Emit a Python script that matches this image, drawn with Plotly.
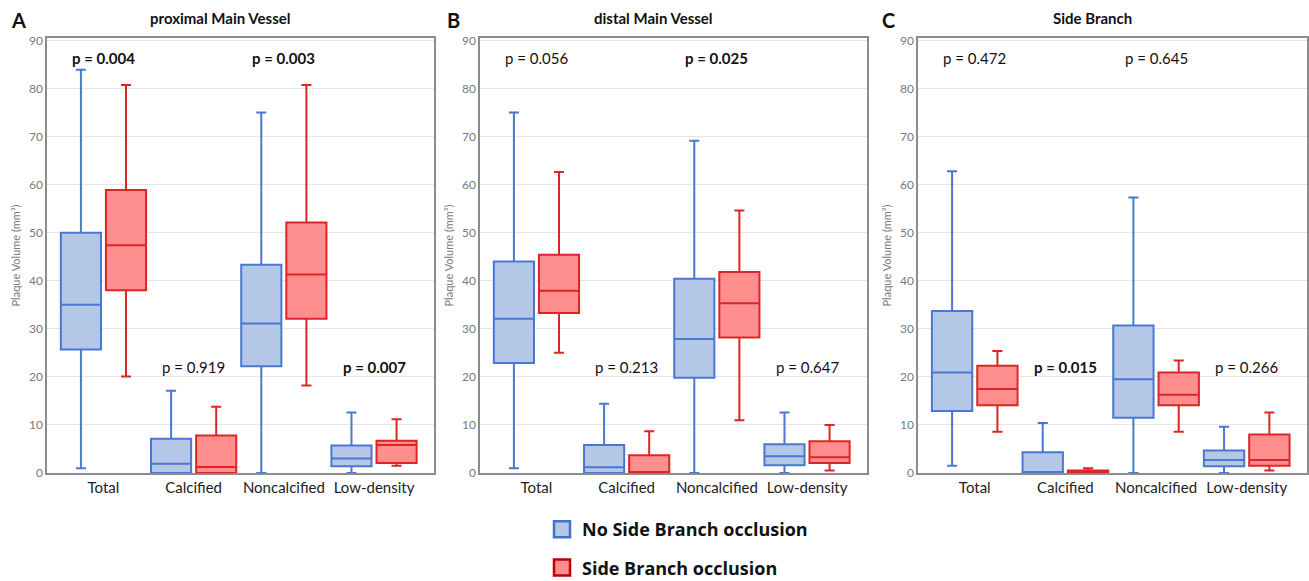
import plotly.graph_objects as go

categories = ["Total", "Calcified", "Noncalcified", "Low-density"]

# ---- A: proximal Main Vessel ----
prox_no_lower = [1.0, 0.0, 0.0, 0.0]
prox_no_q1 = [25.7, 0.0, 22.2, 1.4]
prox_no_median = [35.0, 1.9, 31.1, 3.0]
prox_no_q3 = [50.0, 7.1, 43.3, 5.7]
prox_no_upper = [83.9, 17.1, 75.0, 12.6]

prox_sbo_lower = [20.1, 0.0, 18.2, 1.5]
prox_sbo_q1 = [38.0, 0.0, 32.1, 2.1]
prox_sbo_median = [47.4, 1.25, 41.3, 5.8]
prox_sbo_q3 = [58.9, 7.8, 52.1, 6.7]
prox_sbo_upper = [80.7, 13.8, 80.7, 11.2]

prox_p = ["0.004", "0.919", "0.003", "0.007"]
prox_sig = [True, False, True, True]

# ---- B: distal Main Vessel ----
dist_no_lower = [1.0, 0.0, 0.0, 0.0]
dist_no_q1 = [22.9, 0.0, 19.8, 1.6]
dist_no_median = [32.1, 1.2, 27.9, 3.5]
dist_no_q3 = [44.0, 5.8, 40.4, 6.0]
dist_no_upper = [75.0, 14.4, 69.1, 12.6]

dist_sbo_lower = [25.0, 0.0, 11.0, 0.5]
dist_sbo_q1 = [33.3, 0.0, 28.2, 2.1]
dist_sbo_median = [37.9, 0.15, 35.3, 3.3]
dist_sbo_q3 = [45.4, 3.7, 41.8, 6.6]
dist_sbo_upper = [62.6, 8.7, 54.6, 10.0]

dist_p = ["0.056", "0.213", "0.025", "0.647"]
dist_sig = [False, False, True, False]

# ---- C: Side Branch ----
side_no_lower = [1.5, 0.0, 0.0, 0.0]
side_no_q1 = [12.9, 0.0, 11.5, 1.4]
side_no_median = [20.9, 0.1, 19.5, 2.7]
side_no_q3 = [33.7, 4.3, 30.7, 4.7]
side_no_upper = [62.8, 10.4, 57.3, 9.6]

side_sbo_lower = [8.6, 0.0, 8.6, 0.5]
side_sbo_q1 = [14.1, 0.0, 14.1, 1.5]
side_sbo_median = [17.5, 0.1, 16.3, 2.7]
side_sbo_q3 = [22.3, 0.5, 20.9, 8.0]
side_sbo_upper = [25.4, 1.0, 23.4, 12.6]

side_p = ["0.472", "0.015", "0.645", "0.266"]
side_sig = [False, True, False, False]

panel_titles = ["proximal Main Vessel", "distal Main Vessel", "Side Branch"]
panel_letters = ["A", "B", "C"]
group_names = ["No Side Branch occlusion", "Side Branch occlusion"]

FONT = "Lato"
BLUE_LINE = "#4A78D0"
BLUE_FILL = "#B4C7E7"
RED_LINE = "#DC2626"
RED_FILL = "#FF8F8F"

panels = [
    ((prox_no_lower, prox_no_q1, prox_no_median, prox_no_q3, prox_no_upper),
     (prox_sbo_lower, prox_sbo_q1, prox_sbo_median, prox_sbo_q3, prox_sbo_upper),
     prox_p, prox_sig),
    ((dist_no_lower, dist_no_q1, dist_no_median, dist_no_q3, dist_no_upper),
     (dist_sbo_lower, dist_sbo_q1, dist_sbo_median, dist_sbo_q3, dist_sbo_upper),
     dist_p, dist_sig),
    ((side_no_lower, side_no_q1, side_no_median, side_no_q3, side_no_upper),
     (side_sbo_lower, side_sbo_q1, side_sbo_median, side_sbo_q3, side_sbo_upper),
     side_p, side_sig),
]

fig = go.Figure()

ML, MR, MT, MB = 47, 2, 38, 108
W, H = 1309, 581
PW = W - ML - MR
PH = H - MT - MB
x_domains_px = [(47, 434), (480, 867), (918, 1307)]
title_centers_px = [220, 653, 1092]
letter_left_px = [9, 445, 880]

annotations = []
for i, (no, sbo, pv, sig) in enumerate(panels):
    ax = "" if i == 0 else str(i + 1)
    for stats, name, lc, fc in [(no, group_names[0], BLUE_LINE, BLUE_FILL),
                                (sbo, group_names[1], RED_LINE, RED_FILL)]:
        lo, q1, med, q3, up = stats
        fig.add_trace(go.Box(
            x=categories, lowerfence=lo, q1=q1, median=med, q3=q3, upperfence=up,
            name=name, legendgroup=name, showlegend=False, boxpoints=False,
            line=dict(color=lc, width=2), fillcolor=fc, whiskerwidth=0.25,
            offsetgroup=name, xaxis="x" + ax, yaxis="y" + ax,
        ))
    for k, cat in enumerate(categories):
        txt = "p = " + pv[k]
        if sig[k]:
            txt = "<b>" + txt + "</b>"
        annotations.append(dict(
            x=cat, y=86.4 if k % 2 == 0 else 22.0, xref="x" + ax, yref="y" + ax,
            text=txt, showarrow=False, font=dict(family=FONT, size=15, color="#111111"),
            xanchor="center", yanchor="middle"))
    x0, x1 = x_domains_px[i]
    fig.layout["xaxis" + ax] = dict(
        domain=[(x0 - ML) / PW, (x1 - ML) / PW], anchor="y" + ax,
        type="category", categoryorder="array", categoryarray=categories,
        range=[-0.626, 3.665], showgrid=False, zeroline=False,
        showline=True, mirror=True, linecolor="#8c8c8c", linewidth=1.5,
        ticks="", tickfont=dict(family=FONT, size=15, color="#222222"),
    )
    fig.layout["yaxis" + ax] = dict(
        domain=[0, 1], anchor="x" + ax, range=[0, 90.5],
        tickvals=[0, 10, 20, 30, 40, 50, 60, 70, 80, 90],
        showgrid=True, gridcolor="#E6E6E6", gridwidth=1, zeroline=False,
        showline=True, mirror=True, linecolor="#8c8c8c", linewidth=1.5,
        ticks="", tickfont=dict(family=FONT, size=12, color="#7a7a7a"),
        title=dict(text="Plaque Volume (mm³)", font=dict(family=FONT, size=11, color="#7a7a7a"),
                   standoff=6),
    )
    annotations.append(dict(
        x=(title_centers_px[i] - ML) / PW, y=(H - MB - 18) / PH, xref="paper", yref="paper",
        text="<b>" + panel_titles[i] + "</b>", showarrow=False,
        font=dict(family=FONT, size=15, color="#111111"), xanchor="center", yanchor="middle"))
    annotations.append(dict(
        x=(letter_left_px[i] - ML) / PW, y=(H - MB - 20) / PH, xref="paper", yref="paper",
        text="<b>" + panel_letters[i] + "</b>", showarrow=False,
        font=dict(family=FONT, size=20, color="#111111"), xanchor="left", yanchor="middle"))

# legend entries
for name, lc, fc in [(group_names[0], "#4472C4", BLUE_FILL), (group_names[1], "#C00000", RED_FILL)]:
    fig.add_trace(go.Scatter(
        x=[None], y=[None], mode="markers", name=name, legendgroup=name,
        marker=dict(symbol="square", size=16, color=fc, line=dict(color=lc, width=2.5)),
        xaxis="x2", yaxis="y2", showlegend=True))

fig.update_layout(
    width=W, height=H,
    margin=dict(l=ML, r=MR, t=MT, b=MB, autoexpand=False),
    paper_bgcolor="white", plot_bgcolor="white",
    boxmode="group", boxgap=0.0, boxgroupgap=0.11,
    annotations=annotations,
    showlegend=True,
    legend=dict(x=(542 - ML) / PW, y=(H - MB - 511) / PH, xanchor="left", yanchor="top",
                orientation="v", tracegroupgap=12,
                font=dict(family="Open Sans", size=18, color="#111111", weight="bold"),
                bgcolor="rgba(0,0,0,0)"),
    font=dict(family=FONT),
)

fig.write_html("out.html")
